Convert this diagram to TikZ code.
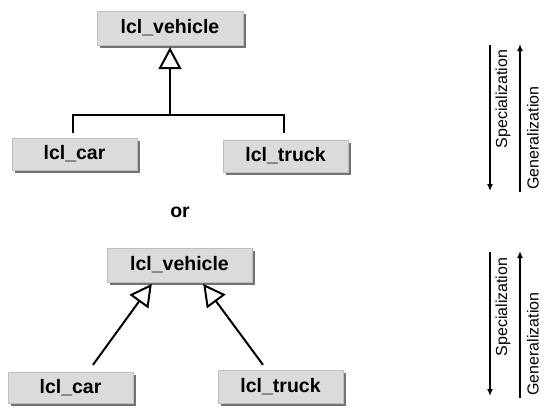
\documentclass[tikz,border=0pt]{standalone}
\usepackage{fontspec}
\setmainfont{Liberation Sans}
\usetikzlibrary{arrows.meta,shadows,calc}
\begin{document}
\begin{tikzpicture}[x=1pt,y=-1pt,
  cls/.style={fill=black!14, draw=black!25, line width=0.4pt, minimum width=125pt, minimum height=32pt, inner sep=0pt,
    font=\fontsize{19.5}{22}\selectfont\bfseries,
    drop shadow={shadow xshift=3pt, shadow yshift=-3pt, fill=black!55, opacity=1}},
  gen/.style={line width=2pt, -{Triangle[open, length=22pt, width=23pt, line width=2pt]}, shorten >=2pt},
  conn/.style={line width=2pt},
  side/.style={line width=1.6pt, -{Latex[length=7pt, width=6pt]}},
  sidetext/.style={rotate=90, font=\fontsize{16}{18}\selectfont}]
\useasboundingbox (0,0) rectangle (556,410);
% top variant
\node[cls, minimum width=146pt, minimum height=34pt] (v1) at (170,28) {lcl\_vehicle};
\node[cls] (c1) at (74.5,154) {lcl\_car};
\node[cls] (t1) at (285.5,156) {lcl\_truck};
\coordinate (j1) at (v1.south |- 0,115);
\coordinate (cj) at ($(c1.north)+(-1.5,0)$);
\coordinate (tj) at ($(t1.north)+(-1.5,0)$);
\draw[gen] (j1) -- (v1.south);
\draw[conn, shorten <=5pt] (cj) |- (j1);
\draw[conn, shorten <=7pt] (tj) |- (j1);
\node[font=\fontsize{19.5}{22}\selectfont\bfseries] (or) at (180,212) {or};
% bottom variant
\node[cls, minimum width=145pt, minimum height=34pt] (v2) at (179.5,265) {lcl\_vehicle};
\node[cls, minimum height=31pt] (c2) at (70.5,387.5) {lcl\_car};
\node[cls, minimum height=33pt] (t2) at (280.5,386.5) {lcl\_truck};
\draw[gen] ([xshift=22.5pt,yshift=7pt]c2.north) -- ([xshift=-26.5pt]v2.south);
\draw[gen] ([xshift=-17.5pt,yshift=5pt]t2.north) -- ([xshift=22.5pt]v2.south);
% side arrows top
\coordinate (s1a) at (490,45);
\coordinate (s1b) at (490,191);
\coordinate (g1a) at (520,192);
\coordinate (g1b) at (520,44);
\draw[side] (s1a) -- (s1b);
\draw[side] (g1a) -- (g1b);
\node[sidetext] (sp1) at (503,99) {Specialization};
\node[sidetext] (ge1) at (533,138) {Generalization};
% side arrows bottom
\coordinate (s2a) at (490,252);
\coordinate (s2b) at (490,396);
\coordinate (g2a) at (520,398);
\coordinate (g2b) at (520,251);
\draw[side] (s2a) -- (s2b);
\draw[side] (g2a) -- (g2b);
\node[sidetext] (sp2) at (503,307) {Specialization};
\node[sidetext] (ge2) at (533,344) {Generalization};
\end{tikzpicture}
\end{document}
